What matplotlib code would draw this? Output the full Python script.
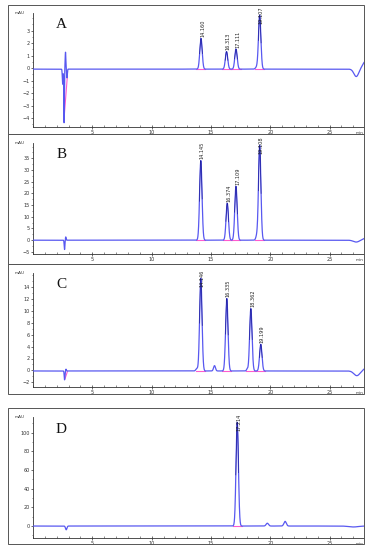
import numpy as np
import matplotlib.pyplot as plt
from matplotlib.patches import Rectangle
from matplotlib.ticker import MultipleLocator

W, H = 372, 550

# retention time axis (min)
t = np.linspace(0, 27.9, 5000)

# ---- panel A ----
a_rt = [14.160, 16.313, 17.111, 19.107]
a_ht = [2.45, 1.40, 1.60, 4.30]
a_lab = ["14.160", "16.313", "17.111", "19.107"]
a_ex_rt = [2.50, 2.62, 2.74, 2.86, 18.85, 27.25, 28.15]
a_ex_ht = [-1.2, -4.3, 1.35, -0.7, 0.15, -0.6, 0.75]
a_ex_w = [0.03, 0.025, 0.03, 0.03, 0.10, 0.20, 0.30]

# ---- panel B ----
b_rt = [14.145, 16.374, 17.109, 19.108]
b_ht = [34.0, 15.8, 23.0, 40.5]
b_lab = ["14.145", "16.374", "17.109", "19.108"]
b_ex_rt = [2.66, 2.76, 18.85, 27.25, 28.15]
b_ex_ht = [-4.0, 1.4, 1.5, -0.8, 1.0]
b_ex_w = [0.03, 0.03, 0.08, 0.25, 0.30]

# ---- panel C ----
c_rt = [14.146, 16.335, 18.362, 19.199]
c_ht = [15.6, 12.2, 10.5, 4.5]
c_lab = ["14.146", "16.335", "18.362", "19.199"]
c_ex_rt = [2.66, 2.78, 13.8, 15.3, 18.05, 27.3, 28.15]
c_ex_ht = [-1.5, 0.3, 0.4, 0.9, 0.3, -0.8, 0.5]
c_ex_w = [0.03, 0.03, 0.08, 0.08, 0.06, 0.25, 0.30]

# ---- panel D ----
d_rt = [17.214]
d_ht = [111.0]
d_lab = ["17.214"]
d_ex_rt = [2.80, 19.75, 21.25, 27.0]
d_ex_ht = [-4.0, 3.0, 5.0, -1.0]
d_ex_w = [0.06, 0.10, 0.10, 0.40]

panels = [
    dict(letter="A", rt=a_rt, ht=a_ht, lab=a_lab, ex=(a_ex_rt, a_ex_ht, a_ex_w),
         base=-0.08, ylim=(-4.7, 4.4), ystep=1, yticks=np.arange(-4, 4, 1),
         box=(5, 134), ax=(13, 127), inj=((2.62, -4.0), (2.90, -0.6))),
    dict(letter="B", rt=b_rt, ht=b_ht, lab=b_lab, ex=(b_ex_rt, b_ex_ht, b_ex_w),
         base=0.0, ylim=(-5.9, 41.5), ystep=5, yticks=np.arange(-5, 40, 5),
         box=(134, 264), ax=(143, 254), inj=None),
    dict(letter="C", rt=c_rt, ht=c_ht, lab=c_lab, ex=(c_ex_rt, c_ex_ht, c_ex_w),
         base=-0.1, ylim=(-2.8, 16.4), ystep=2, yticks=np.arange(-2, 16, 2),
         box=(264, 394), ax=(273, 387), inj=((2.70, -1.4), (2.90, -0.2))),
    dict(letter="D", rt=d_rt, ht=d_ht, lab=d_lab, ex=(d_ex_rt, d_ex_ht, d_ex_w),
         base=0.0, ylim=(-12.8, 116.6), ystep=20, yticks=np.arange(0, 120, 20),
         box=(408, 544), ax=(417, 538), inj=None),
]

fig = plt.figure(figsize=(W / 100, H / 100), dpi=100)
fig.patch.set_facecolor("white")

trace_col = "#5858f0"
dark_col = "#1a1a90"
pink = "#ff5ccd"
sig = 0.1

for p in panels:
    y0, y1 = p["box"]
    fig.add_artist(Rectangle((8 / W, 1 - y1 / H), (364 - 8) / W, (y1 - y0) / H,
                             transform=fig.transFigure, fill=False, lw=0.7,
                             ec="#555555"))
    at, ab = p["ax"]
    ax = fig.add_axes([33 / W, 1 - ab / H, (364 - 33) / W, (ab - at) / H])
    ax.patch.set_alpha(0)

    # build trace from peak list
    y = np.full_like(t, p["base"])
    for rt, h in zip(p["rt"], p["ht"]):
        y += h * np.exp(-0.5 * ((t - rt) / sig) ** 2)
    for rt, h, w in zip(*p["ex"]):
        y += h * np.exp(-0.5 * ((t - rt) / w) ** 2)

    # integration baselines
    for rt in p["rt"]:
        ax.plot([rt - 0.38, rt + 0.38], [p["base"], p["base"]], color=pink,
                lw=0.8, zorder=2)
    if p["inj"] is not None:
        (xa, ya), (xb, yb) = p["inj"]
        ax.plot([xa, xb], [ya, yb], color=pink, lw=0.8, zorder=2)

    ax.plot(t, y, color=trace_col, lw=0.9, zorder=3)
    # darker apex region
    for rt, h in zip(p["rt"], p["ht"]):
        m = (np.abs(t - rt) < 0.12) & (y > p["base"] + 0.4 * h)
        ax.plot(t[m], y[m], color=dark_col, lw=0.45, zorder=4)

    ytop = p["ylim"][1]
    for rt, h, lab in zip(p["rt"], p["ht"], p["lab"]):
        pk = h + p["base"]
        if pk > 0.85 * ytop:
            ax.text(rt + 0.12, pk, lab, rotation=90, ha="center", va="center",
                    fontsize=3.6, color="#222222", zorder=5)
        else:
            ax.annotate(lab, (rt, pk), xytext=(1.2, 1.0),
                        textcoords="offset points", rotation=90, ha="center",
                        va="bottom", fontsize=3.6, color="#222222", zorder=5)

    ax.set_xlim(0, 27.9)
    ax.set_ylim(*p["ylim"])
    ax.set_xticks([5, 10, 15, 20, 25])
    ax.xaxis.set_minor_locator(MultipleLocator(1))
    ax.set_yticks(p["yticks"])
    ax.yaxis.set_minor_locator(MultipleLocator(p["ystep"] / 2))
    for s in ("top", "right"):
        ax.spines[s].set_visible(False)
    for s in ("left", "bottom"):
        ax.spines[s].set_linewidth(0.6)
        ax.spines[s].set_color("#333333")
    ax.tick_params(axis="x", which="major", direction="inout", length=2.5,
                   width=0.5, labelsize=3.5, pad=1, colors="#333333")
    ax.tick_params(axis="x", which="minor", direction="in", length=1.2,
                   width=0.4, colors="#333333")
    ax.tick_params(axis="y", which="major", direction="out", length=1.5,
                   width=0.5, labelsize=3.5, pad=1, colors="#333333")
    ax.tick_params(axis="y", which="minor", direction="out", length=1.0,
                   width=0.4, colors="#333333")

    ax.text(-0.025, 1.0, "mAU", transform=ax.transAxes, ha="right", va="center",
            fontsize=3, color="#333333")
    ax.text(1.0, -0.035, "min", transform=ax.transAxes, ha="right", va="top",
            fontsize=3, color="#333333")
    ax.text(0.085, 0.9, p["letter"], transform=ax.transAxes, ha="center",
            va="center", fontsize=11, family="Liberation Serif", color="#111111")

fig.savefig("out.png", dpi=100)
